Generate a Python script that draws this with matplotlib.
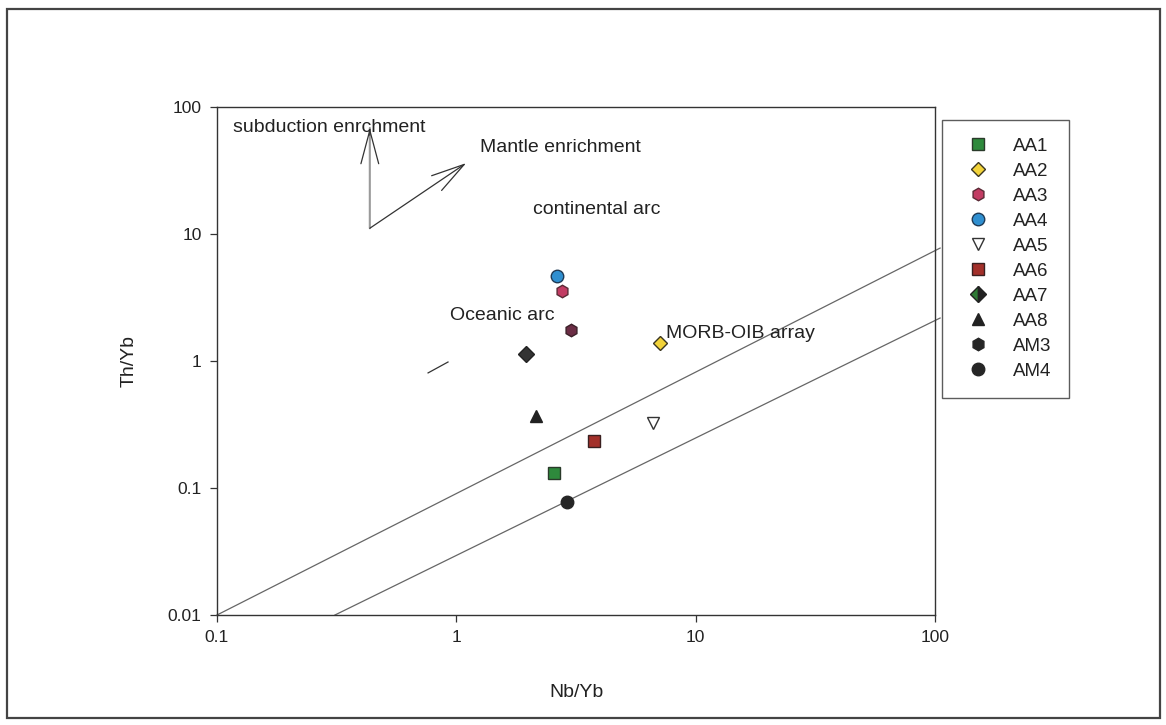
import matplotlib
matplotlib.use("Agg")
import matplotlib.pyplot as plt
from matplotlib.lines import Line2D
from matplotlib.patches import Rectangle

plt.rcParams['font.family'] = ['Liberation Sans', 'DejaVu Sans']

# Sample data: Nb/Yb vs Th/Yb
series = ["AA1", "AA2", "AA3", "AA4", "AA5", "AA6", "AA7", "AA8", "AM3", "AM4"]
nb_yb = {
    "AA1": [2.56], "AA2": [7.1], "AA3": [2.77], "AA4": [2.64], "AA5": [6.64],
    "AA6": [3.76], "AA7": [1.96], "AA8": [2.15], "AM3": [3.02], "AM4": [2.90],
}
th_yb = {
    "AA1": [0.131], "AA2": [1.39], "AA3": [3.56], "AA4": [4.67], "AA5": [0.325],
    "AA6": [0.234], "AA7": [1.14], "AA8": [0.369], "AM3": [1.75], "AM4": [0.0776],
}

# MORB-OIB array boundaries (Nb/Yb, Th/Yb)
upper_x = [0.1, 105]
upper_y = [0.01, 7.75]
lower_x = [0.311, 105]
lower_y = [0.01, 2.18]

x_ticks = [0.1, 1, 10, 100]
x_ticklabels = ["0.1", "1", "10", "100"]
y_ticks = [0.01, 0.1, 1, 10, 100]
y_ticklabels = ["0.01", "0.1", "1", "10", "100"]

styles = {
    "AA1": dict(marker="s", mfc="#2e8a3c", mec="#2a3a2a", ms=8),
    "AA2": dict(marker="D", mfc="#f2d33a", mec="#3a3520", ms=7.5),
    "AA3": dict(marker="h", mfc="#c23c63", mec="#5a2a35", ms=9),
    "AA4": dict(marker="o", mfc="#2f8fd0", mec="#1f3a55", ms=9),
    "AA5": dict(marker="v", mfc="white", mec="#333333", ms=9),
    "AA6": dict(marker="s", mfc="#a3302a", mec="#3a2020", ms=8),
    "AA7": dict(marker="D", mfc="#333333", mec="#222222", ms=8),
    "AA8": dict(marker="^", mfc="#222222", mec="#222222", ms=9),
    "AM3": dict(marker="h", mfc="#6b2d45", mec="#3a2028", ms=9),
    "AM4": dict(marker="o", mfc="#262626", mec="#262626", ms=9),
}

fig = plt.figure(figsize=(11.66, 7.25), dpi=100)
ax = fig.add_axes([0.1861, 0.1517, 0.6158, 0.7007])
ax.set_xscale("log")
ax.set_yscale("log")
ax.set_xlim(0.1, 100)
ax.set_ylim(0.01, 100)

ax.plot(upper_x, upper_y, color="#666666", lw=0.9, clip_on=False, zorder=2)
ax.plot(lower_x, lower_y, color="#666666", lw=0.9, clip_on=False, zorder=2)

for name in series:
    st = styles[name]
    ax.plot(nb_yb[name], th_yb[name], linestyle="none", marker=st["marker"],
            markerfacecolor=st["mfc"], markeredgecolor=st["mec"],
            markersize=st["ms"], markeredgewidth=1.0, zorder=4)

# Enrichment vectors
head = "->,head_length=1.2,head_width=0.32"
ax.annotate("", xy=(0.435, 68.4), xytext=(0.435, 11.1),
            arrowprops=dict(arrowstyle="-", color="#9a9a9a", lw=1.5,
                            shrinkA=0, shrinkB=0))
ax.annotate("", xy=(0.435, 68.4), xytext=(0.435, 60),
            arrowprops=dict(arrowstyle=head, color="#333333", lw=0.9,
                            mutation_scale=20, shrinkA=0, shrinkB=0))
ax.annotate("", xy=(1.10, 36.2), xytext=(0.435, 11.1),
            arrowprops=dict(arrowstyle=head, color="#333333", lw=0.9,
                            mutation_scale=20, shrinkA=0, shrinkB=0))
ax.plot([0.762, 0.923], [0.806, 0.982], color="#333333", lw=0.9)

txt = dict(fontsize=14, color="#222222", va="center", ha="left")
ax.text(0.117, 68.4, "subduction enrchment", **txt)
ax.text(1.256, 47.6, "Mantle enrichment", **txt)
ax.text(2.09, 15.7, "continental arc", **txt)
ax.text(0.942, 2.30, "Oceanic arc", **txt)
ax.text(7.52, 1.66, "MORB-OIB array", **txt)

ax.set_xticks(x_ticks)
ax.set_xticklabels(x_ticklabels)
ax.set_yticks(y_ticks)
ax.set_yticklabels(y_ticklabels)
ax.minorticks_off()
ax.tick_params(direction="out", length=5, width=0.9, color="#333333",
               labelsize=12.5, labelcolor="#222222", pad=6)
for sp in ax.spines.values():
    sp.set_color("#333333")
    sp.set_linewidth(1.0)

ax.set_xlabel("Nb/Yb", fontsize=14, color="#222222", labelpad=28)
ax.set_ylabel("Th/Yb", fontsize=14, color="#222222", labelpad=22)

# Legend handles
handles = []
for name in series:
    st = dict(styles[name])
    if name == "AM3":
        st["mfc"] = "#262626"
        st["mec"] = "#262626"
    if name == "AA7":
        h = Line2D([], [], linestyle="none", marker="D", markersize=8,
                   markerfacecolor="#2e7a35", markerfacecoloralt="#222222",
                   fillstyle="left", markeredgecolor="#222222", markeredgewidth=1.0)
    else:
        h = Line2D([], [], linestyle="none", marker=st["marker"],
                   markerfacecolor=st["mfc"], markeredgecolor=st["mec"],
                   markersize=st["ms"], markeredgewidth=1.0)
    handles.append(h)

leg = fig.legend(handles, series, loc="upper left",
                 bbox_to_anchor=(942 / 1166, 1 - 120 / 725),
                 frameon=True, fancybox=False, edgecolor="#333333",
                 fontsize=13.5, labelspacing=0.42, handlelength=1.94,
                 handletextpad=0.87, borderpad=0.95, borderaxespad=0,
                 labelcolor="#222222")
leg.get_frame().set_linewidth(1.0)

# Outer frame
fig.patches.append(Rectangle((7 / 1166, 1 - 718 / 725), (1160 - 7) / 1166,
                             (718 - 9) / 725, transform=fig.transFigure,
                             fill=False, edgecolor="#444444", lw=1.6))

fig.savefig("out.png", dpi=100, facecolor="white")
